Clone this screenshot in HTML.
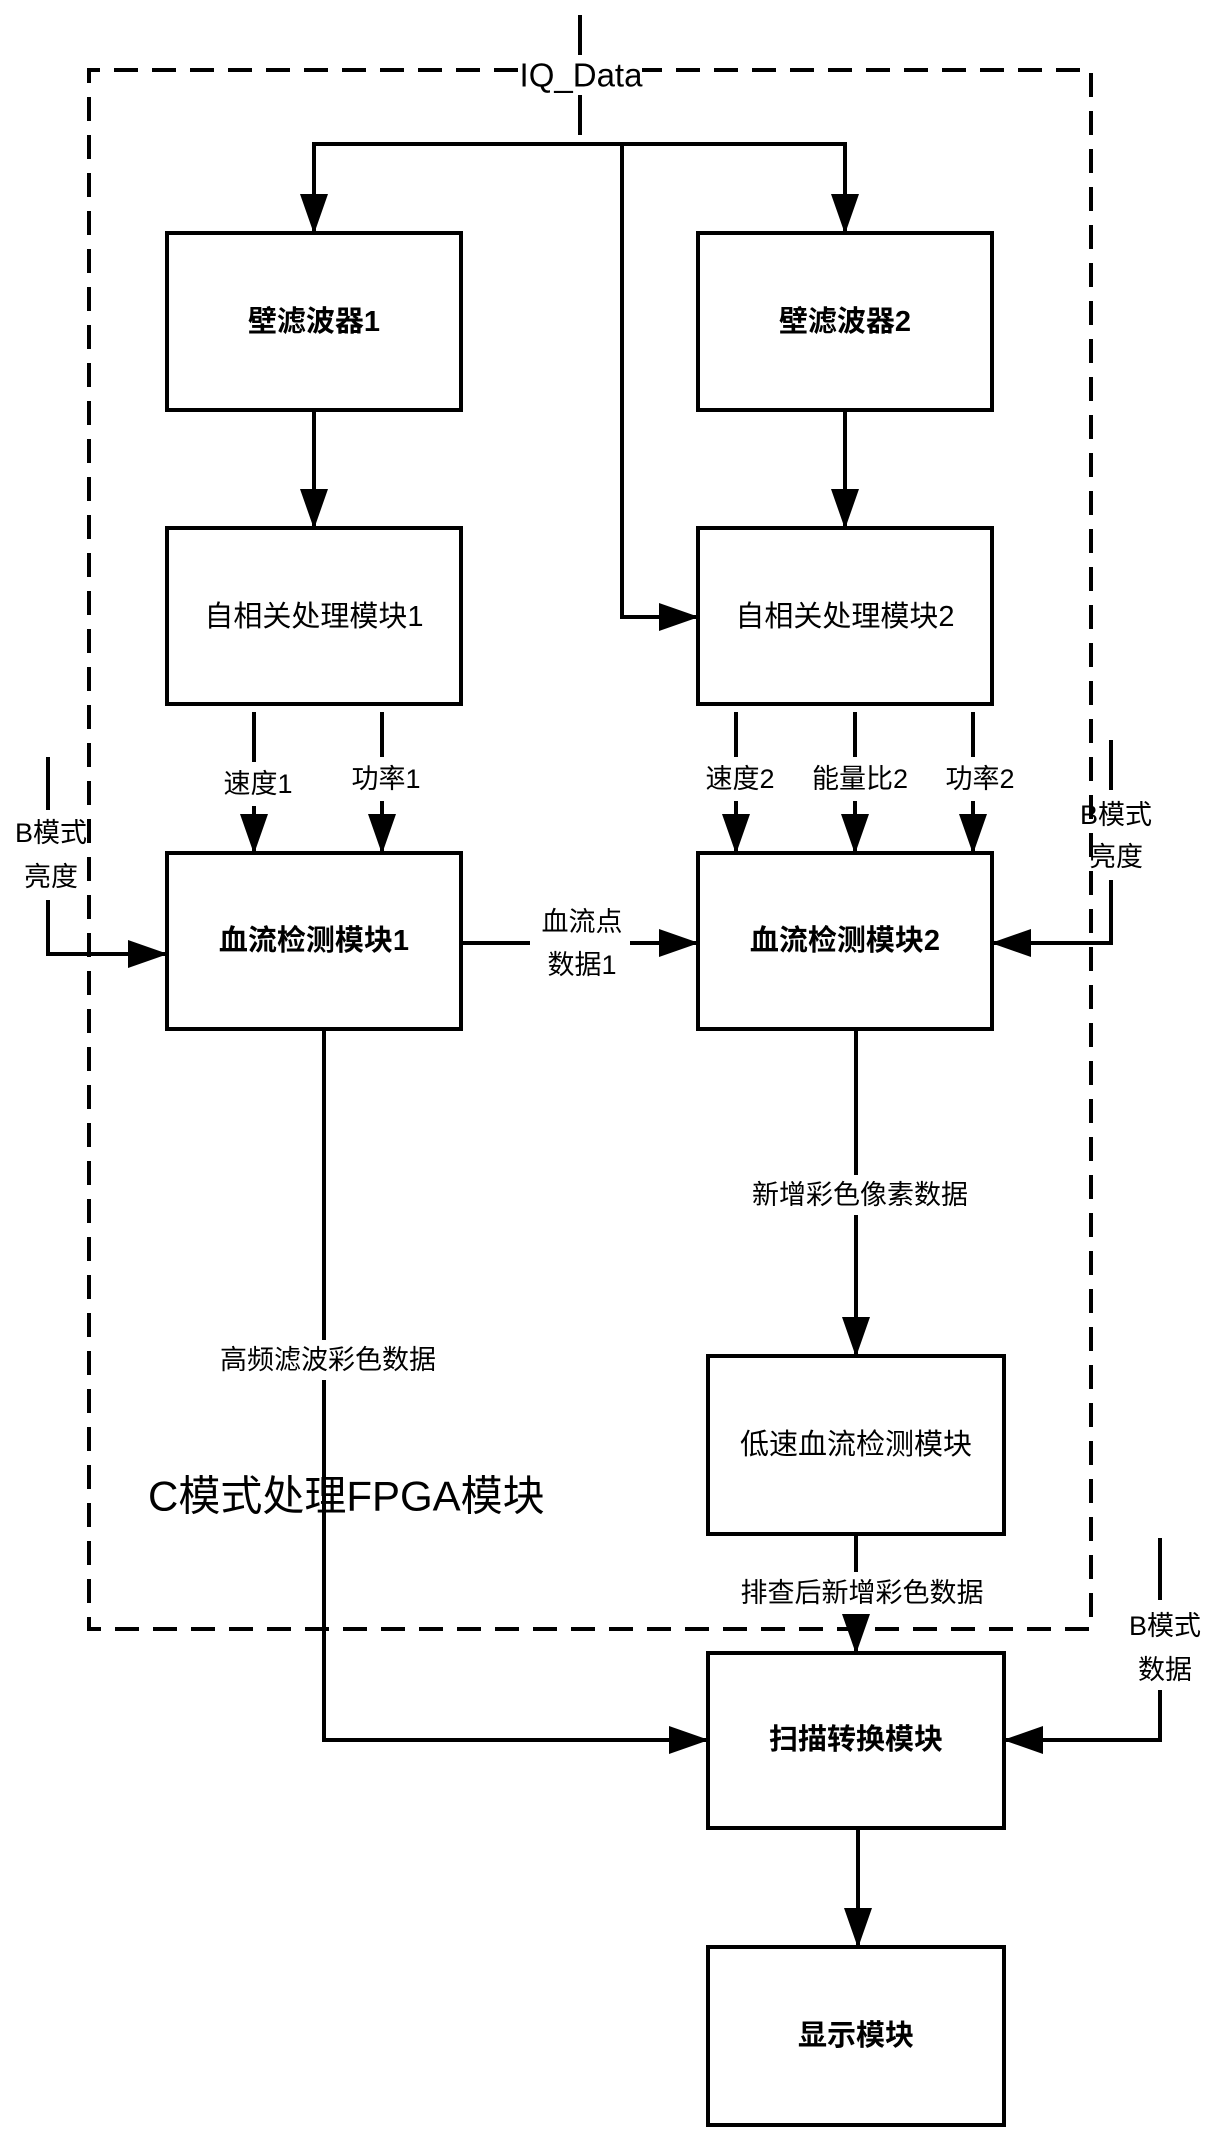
<!DOCTYPE html>
<html><head><meta charset="utf-8"><style>
html,body{margin:0;padding:0;background:#fff;}
svg{display:block;}
text{font-family:"Liberation Sans","Noto Sans CJK SC",sans-serif;fill:#000;}
.b{font-weight:bold;}
</style></head><body>
<svg width="1219" height="2139" viewBox="0 0 1219 2139" xmlns="http://www.w3.org/2000/svg">
<defs>
<marker id="a" markerWidth="40" markerHeight="28" refX="39" refY="14" orient="auto" markerUnits="userSpaceOnUse" viewBox="0 0 40 28">
<path d="M0,0 L40,14 L0,28 Z" fill="#000"/>
</marker>
</defs>
<g fill="none" stroke="#000" stroke-width="4">
<path d="M518,70 H89 V1629 H1091 V70 H642" stroke-dasharray="24,14"/>
<line x1="580" y1="15" x2="580" y2="55"/>
<line x1="580" y1="95" x2="580" y2="135"/>
<polyline points="314,180 314,144 845,144 845,180"/>
<line x1="314" y1="178" x2="314" y2="233" marker-end="url(#a)"/>
<line x1="845" y1="178" x2="845" y2="233" marker-end="url(#a)"/>
<polyline points="622,144 622,617 698,617" marker-end="url(#a)"/>
<rect x="167" y="233" width="294" height="177"/>
<rect x="698" y="233" width="294" height="177"/>
<rect x="167" y="528" width="294" height="176"/>
<rect x="698" y="528" width="294" height="176"/>
<rect x="167" y="853" width="294" height="176"/>
<rect x="698" y="853" width="294" height="176"/>
<rect x="708" y="1356" width="296" height="178"/>
<rect x="708" y="1653" width="296" height="175"/>
<rect x="708" y="1947" width="296" height="178"/>
<line x1="314" y1="410" x2="314" y2="528" marker-end="url(#a)"/>
<line x1="845" y1="410" x2="845" y2="528" marker-end="url(#a)"/>
<line x1="254" y1="712" x2="254" y2="762"/><line x1="254" y1="806" x2="254" y2="853" marker-end="url(#a)"/>
<line x1="382" y1="712" x2="382" y2="757"/><line x1="382" y1="801" x2="382" y2="853" marker-end="url(#a)"/>
<line x1="736" y1="712" x2="736" y2="757"/><line x1="736" y1="801" x2="736" y2="853" marker-end="url(#a)"/>
<line x1="855" y1="712" x2="855" y2="757"/><line x1="855" y1="801" x2="855" y2="853" marker-end="url(#a)"/>
<line x1="973" y1="712" x2="973" y2="757"/><line x1="973" y1="801" x2="973" y2="853" marker-end="url(#a)"/>
<polyline points="48,757 48,810"/>
<polyline points="48,900 48,954 167,954" marker-end="url(#a)"/>
<polyline points="1111,740 1111,790"/>
<polyline points="1111,880 1111,943 992,943" marker-end="url(#a)"/>
<line x1="461" y1="943" x2="530" y2="943"/>
<line x1="630" y1="943" x2="698" y2="943" marker-end="url(#a)"/>
<polyline points="324,1029 324,1340"/>
<polyline points="324,1380 324,1740 708,1740" marker-end="url(#a)"/>
<line x1="856" y1="1029" x2="856" y2="1175"/>
<line x1="856" y1="1215" x2="856" y2="1356" marker-end="url(#a)"/>
<line x1="856" y1="1534" x2="856" y2="1572"/>
<line x1="856" y1="1614" x2="856" y2="1653" marker-end="url(#a)"/>
<polyline points="1160,1538 1160,1600"/>
<polyline points="1160,1690 1160,1740 1004,1740" marker-end="url(#a)"/>
<line x1="858" y1="1828" x2="858" y2="1947" marker-end="url(#a)"/>
</g>
<g font-size="29" text-anchor="middle" dominant-baseline="central">
<text x="581" y="75" font-size="33">IQ_Data</text>
<text x="314" y="322" class="b">壁滤波器1</text>
<text x="845" y="322" class="b">壁滤波器2</text>
<text x="314" y="617">自相关处理模块1</text>
<text x="845" y="617">自相关处理模块2</text>
<text x="314" y="941" class="b">血流检测模块1</text>
<text x="845" y="941" class="b">血流检测模块2</text>
<text x="856" y="1445">低速血流检测模块</text>
<text x="856" y="1740" class="b">扫描转换模块</text>
<text x="856" y="2036" class="b">显示模块</text>
<g font-size="27">
<text x="258" y="784">速度1</text>
<text x="386" y="779">功率1</text>
<text x="740" y="779">速度2</text>
<text x="860" y="779">能量比2</text>
<text x="980" y="779">功率2</text>
<text x="51" y="833">B模式</text>
<text x="51" y="877">亮度</text>
<text x="1116" y="815">B模式</text>
<text x="1116" y="857">亮度</text>
<text x="582" y="922">血流点</text>
<text x="582" y="965">数据1</text>
<text x="328" y="1360">高频滤波彩色数据</text>
<text x="860" y="1195">新增彩色像素数据</text>
<text x="862" y="1593">排查后新增彩色数据</text>
<text x="1165" y="1626">B模式</text>
<text x="1165" y="1670">数据</text>
</g>
<text x="148" y="1496" font-size="42" text-anchor="start">C模式处理FPGA模块</text>
</g>
</svg>
</body></html>
